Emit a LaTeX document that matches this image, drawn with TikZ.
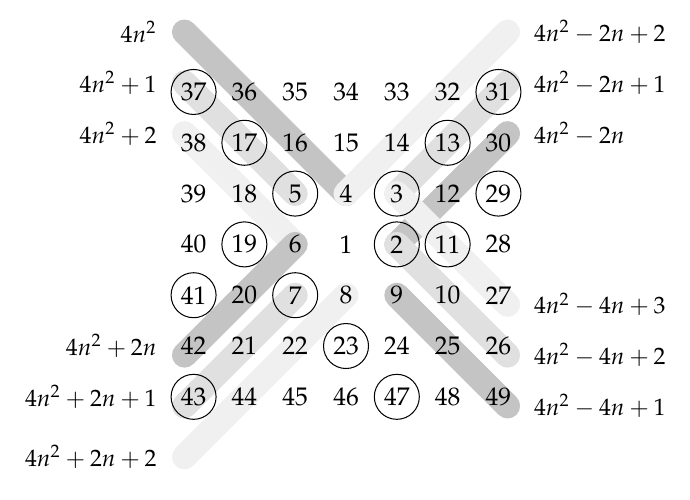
\documentclass[tikz,border=0pt]{standalone}
\usepackage[T1]{fontenc}
\usepackage{mathpazo}
\usepackage{amsmath}
\usepackage{tikz}
\usetikzlibrary{positioning,backgrounds}
\tikzstyle{num} = [inner sep=0pt, minimum size=0.62cm, text centered]
\tikzstyle{prime} = [num, circle, draw]
\tikzstyle{formula} = [font=\fontsize{9.3}{11}\selectfont]
\tikzstyle{band} = [line width=9.8pt, line cap=round]
\tikzstyle{darkband} = [band, draw=black!23]
\tikzstyle{midband} = [band, draw=black!12]
\tikzstyle{lightband} = [band, draw=black!6]
\def\bandout{0.18}

\begin{document}
\begin{tikzpicture}[x=0.7cm, y=0.7cm]
  \useasboundingbox (-6.81,-5.03) rectangle (6.77,4.81);

    % Place numbers, row by row
    \node [prime] (n37) at (-3,3) {37}; \node [num] (n36) at (-2,3) {36}; \node [num] (n35) at (-1,3) {35};
    \node [num] (n34) at (0,3) {34}; \node [num] (n33) at (1,3) {33}; \node [num] (n32) at (2,3) {32};
    \node [prime] (n31) at (3,3) {31};

    \node [num] (n38) at (-3,2) {38}; \node [prime] (n17) at (-2,2) {17}; \node [num] (n16) at (-1,2) {16};
    \node [num] (n15) at (0,2) {15}; \node [num] (n14) at (1,2) {14}; \node [prime] (n13) at (2,2) {13};
    \node [num] (n30) at (3,2) {30};

    \node [num] (n39) at (-3,1) {39}; \node [num] (n18) at (-2,1) {18}; \node [prime] (n5) at (-1,1) {5};
    \node [num] (n4) at (0,1) {4}; \node [prime] (n3) at (1,1) {3}; \node [num] (n12) at (2,1) {12};
    \node [prime] (n29) at (3,1) {29};

    \node [num] (n40) at (-3,0) {40}; \node [prime] (n19) at (-2,0) {19}; \node [num] (n6) at (-1,0) {6};
    \node [num] (n1) at (0,0) {1}; \node [prime] (n2) at (1,0) {2}; \node [prime] (n11) at (2,0) {11};
    \node [num] (n28) at (3,0) {28};

    \node [prime] (n41) at (-3,-1) {41}; \node [num] (n20) at (-2,-1) {20}; \node [prime] (n7) at (-1,-1) {7};
    \node [num] (n8) at (0,-1) {8}; \node [num] (n9) at (1,-1) {9}; \node [num] (n10) at (2,-1) {10};
    \node [num] (n27) at (3,-1) {27};

    \node [num] (n42) at (-3,-2) {42}; \node [num] (n21) at (-2,-2) {21}; \node [num] (n22) at (-1,-2) {22};
    \node [prime] (n23) at (0,-2) {23}; \node [num] (n24) at (1,-2) {24}; \node [num] (n25) at (2,-2) {25};
    \node [num] (n26) at (3,-2) {26};

    \node [prime] (n43) at (-3,-3) {43}; \node [num] (n44) at (-2,-3) {44}; \node [num] (n45) at (-1,-3) {45};
    \node [num] (n46) at (0,-3) {46}; \node [prime] (n47) at (1,-3) {47}; \node [num] (n48) at (2,-3) {48};
    \node [num] (n49) at (3,-3) {49};

    % Outer ends of the diagonals
    \coordinate (ul1) at (-3-\bandout, 4+\bandout);
    \coordinate (ul2) at (-3-\bandout, 3+\bandout);
    \coordinate (ul3) at (-3-\bandout, 2+\bandout);
    \coordinate (ur1) at (3+\bandout, 4+\bandout);
    \coordinate (ur2) at (3+\bandout, 3+\bandout);
    \coordinate (ur3) at (3+\bandout, 2+\bandout);
    \coordinate (ll1) at (-3-\bandout, -2-\bandout);
    \coordinate (ll2) at (-3-\bandout, -3-\bandout);
    \coordinate (ll3) at (-3-\bandout, -4-\bandout);
    \coordinate (lr1) at (3+\bandout, -1-\bandout);
    \coordinate (lr2) at (3+\bandout, -2-\bandout);
    \coordinate (lr3) at (3+\bandout, -3-\bandout);

    % Formulas
    \node [formula, left=2.6mm of ul1] (f1) {$4n^2$};
    \node [formula, left=2.6mm of ul2] (f2) {$4n^2+1$};
    \node [formula, left=2.6mm of ul3] (f3) {$4n^2+2$};
    \node [formula, right=2.4mm of ur1] (f4) {$4n^2-2n+2$};
    \node [formula, right=2.4mm of ur2] (f5) {$4n^2-2n+1$};
    \node [formula, right=2.4mm of ur3] (f6) {$4n^2-2n$};
    \node [formula, left=2.6mm of ll1, yshift=0.126cm] (f7) {$4n^2+2n$};
    \node [formula, left=2.6mm of ll2, yshift=0.126cm] (f8) {$4n^2+2n+1$};
    \node [formula, left=2.6mm of ll3] (f9) {$4n^2+2n+2$};
    \node [formula, right=2.4mm of lr1] (f10) {$4n^2-4n+3$};
    \node [formula, right=2.4mm of lr2] (f11) {$4n^2-4n+2$};
    \node [formula, right=2.4mm of lr3] (f12) {$4n^2-4n+1$};

    % Draw diagonals behind the numbers
    \begin{scope}[on background layer]
    \path [darkband] (ul1) -- (n4.center);
    \path [midband] (ul2) -- (n5.center);
    \path [lightband] (ul3) -- (n6.center);

    \path [lightband] (ur1) -- (n4.center);
    \path [midband] (ur2) -- (n3.center);
    \path [darkband] (ur3) -- (n2.center);

    \path [darkband] (ll1) -- (n6.center);
    \path [midband] (ll2) -- (n7.center);
    \path [lightband] (ll3) -- (n8.center);

    \path [lightband] (lr1) -- (n3.center);
    \path [midband] (lr2) -- (n2.center);
    \path [darkband] (lr3) -- (n9.center);
    \end{scope}

\end{tikzpicture}
\end{document}
